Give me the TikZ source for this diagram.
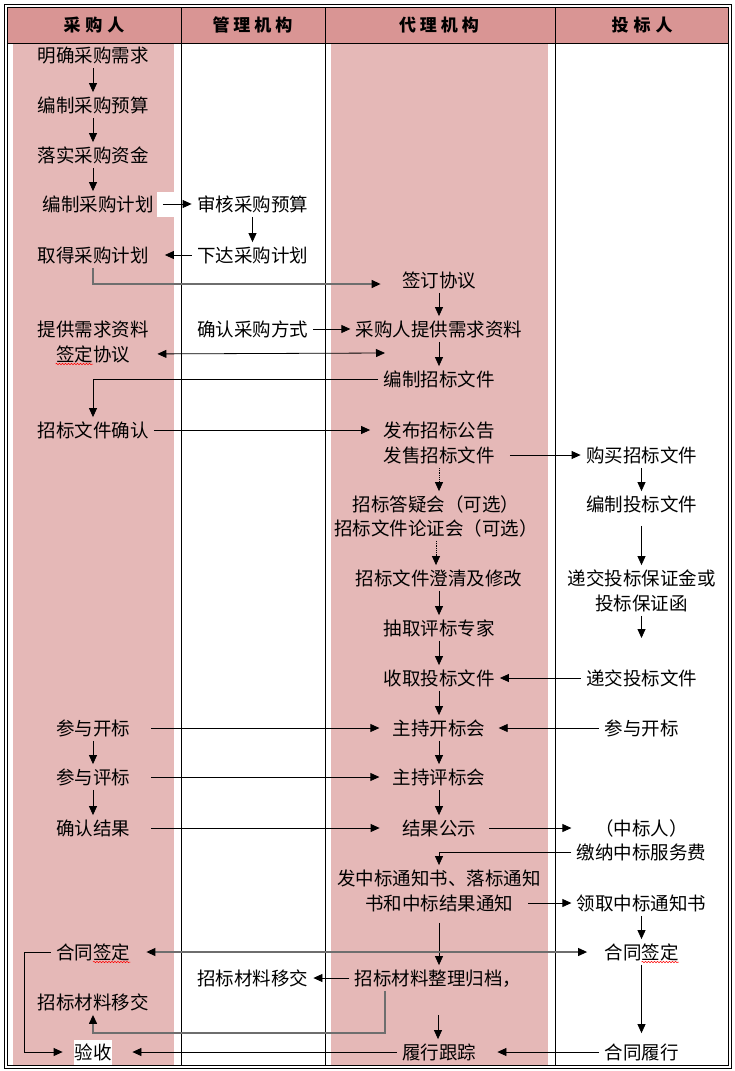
\documentclass[tikz,border=0pt]{standalone}
\usepackage{fontspec}
\setmainfont{Noto Sans CJK SC}
\usetikzlibrary{arrows.meta,decorations.pathmorphing}
\definecolor{hdpink}{HTML}{D99594}
\definecolor{lanepink}{HTML}{E5B8B7}
\definecolor{linegray}{HTML}{6E6E6E}
\tikzset{
    txt/.style={inner xsep=5pt, inner ysep=3pt, text height=16.5pt, text depth=2.5pt, font=\fontsize{18.5}{25}\selectfont},
    hd/.style={inner sep=2pt, text height=14pt, text depth=2pt, font=\fontsize{17}{20}\selectfont\bfseries},
    wavy/.style={red, line width=0.5pt, decorate, decoration={snake, amplitude=0.7pt, segment length=3pt}},
    garr/.style={-{Triangle[length=9pt,width=8pt,color=black]}, linegray, line width=1.3pt}
}
\begin{document}
\begin{tikzpicture}[x=1pt, y=-1pt, >={Triangle[length=9pt,width=8pt]}, line width=0.8pt]
    \useasboundingbox (0,0) rectangle (734,1071);
    \fill[lanepink] (13,43) rectangle (174,1065);
    \fill[lanepink] (331,43) rectangle (548,1065);
    \fill[hdpink] (7,7) rectangle (728,43);
    \fill[white] (157,192) rectangle (174,217);
    \draw (4,4) rectangle (731,1068);
    \draw (7,7) rectangle (728,1065);
    \draw (7,43) -- (728,43);
    \draw (181,7) -- (181,1065);
    \draw (325,7) -- (325,1065);
    \draw (555,7) -- (555,1065);

    \node[hd] (h1) at (94,25) {采\hspace{5pt}购\hspace{5pt}人};
    \node[hd] (h2) at (252.5,25) {管\hspace{4pt}理\hspace{4pt}机\hspace{4pt}构};
    \node[hd] (h3) at (439,25) {代\hspace{4pt}理\hspace{4pt}机\hspace{4pt}构};
    \node[hd] (h4) at (642,25) {投\hspace{5pt}标\hspace{5pt}人};

    \node[txt] (xq) at (93,55) {明确采购需求};
    \node[txt] (ys) at (93,105) {编制采购预算};
    \node[txt] (zj) at (93,155) {落实采购资金};
    \node[txt] (jh) at (98,204) {编制采购计划};
    \node[txt] (qd) at (93,255) {取得采购计划};
    \node[txt] (tg1) at (93,329) {提供需求资料};
    \node[txt] (tg2) at (93,354) {签定协议};
    \node[txt] (wq) at (93,430) {招标文件确认};
    \node[txt] (kb1) at (93,728) {参与开标};
    \node[txt] (pb1) at (93,777) {参与评标};
    \node[txt] (jg1) at (93,828) {确认结果};
    \node[txt] (ht1) at (93,952) {合同签定};
    \node[txt] (yj1) at (93,1002) {招标材料移交};
    \node[txt, fill=white, inner xsep=0.5pt] (ysh) at (93,1052) {验收};

    \node[txt] (sh) at (252.5,204) {审核采购预算};
    \node[txt] (xd) at (252.5,255) {下达采购计划};
    \node[txt] (fs) at (252.5,329) {确认采购方式};
    \node[txt] (yj2) at (252.5,978) {招标材料移交};

    \node[txt] (qy) at (439,280) {签订协议};
    \node[txt] (zl) at (439,329) {采购人提供需求资料};
    \node[txt] (bz) at (439,379) {编制招标文件};
    \node[txt] (gg1) at (439,430) {发布招标公告};
    \node[txt] (gg2) at (439,455) {发售招标文件};
    \node[txt] (dy1) at (436,504) {招标答疑会（可选）};
    \node[txt] (dy2) at (436,528) {招标文件论证会（可选）};
    \node[txt] (cq) at (439,578) {招标文件澄清及修改};
    \node[txt] (cz) at (439,628) {抽取评标专家};
    \node[txt] (sq) at (439,678) {收取投标文件};
    \node[txt] (kb3) at (439,728) {主持开标会};
    \node[txt] (pb3) at (439,777) {主持评标会};
    \node[txt] (gs) at (439,828) {结果公示};
    \node[txt] (tz1) at (439,878) {发中标通知书、落标通知};
    \node[txt] (tz2) at (439,903) {书和中标结果通知};
    \node[txt] (gd) at (438,978) {招标材料整理归档，};
    \node[txt] (lx) at (439,1052) {履行跟踪};

    \node[txt] (gm) at (641.5,455) {购买招标文件};
    \node[txt] (bj) at (641.5,504) {编制投标文件};
    \node[txt] (bzj1) at (641.5,578) {递交投标保证金或};
    \node[txt] (bzj2) at (641.5,603) {投标保证函};
    \node[txt] (dj) at (641.5,678) {递交投标文件};
    \node[txt] (kb4) at (641.5,728) {参与开标};
    \node[txt] (zbr) at (641.5,828) {（中标人）};
    \node[txt] (fee) at (641.5,852) {缴纳中标服务费};
    \node[txt] (lq) at (641.5,903) {领取中标通知书};
    \node[txt] (ht4) at (641.5,952) {合同签定};
    \node[txt] (hx) at (641.5,1052) {合同履行};

    \coordinate (qxr) at (385,353);
    \coordinate (bzd) at (641.5,638);
    \coordinate (gdl) at (385,1033);

    \draw[->] (xq.south) -- (ys.north);
    \draw[->] (ys.south) -- (zj.north);
    \draw[->] (zj.south) -- (zj.south |- jh.north);
    \draw[->, shorten <=4pt] (jh.east) -- (sh.west);
    \draw[->] (sh.south) -- (xd.north);
    \draw[->, shorten >=11pt] (xd.west) -- (qd.east);
    \draw[garr, shorten >=16pt] (qd.south) |- ([yshift=-4pt]qy.west);
    \draw[->] (qy.south) -- (zl.north);
    \draw[->] (fs.east) -- (zl.west);
    \draw[<->, shorten <=22pt] (tg2.east) -- (qxr);
    \draw[->] (zl.south) -- (bz.north);
    \draw[->] (bz.west) -| (wq.north);
    \draw[->, shorten >=8pt] (wq.east) -- (gg1.west);
    \draw[->, shorten <=10pt] (gg2.east) -- (gm.west);
    \draw[->, densely dotted] (gg2.south) -- (gg2.south |- dy1.north);
    \draw[->, densely dotted] (dy2.south) -- (dy2.south |- cq.north);
    \draw[->] (cq.south) -- (cz.north);
    \draw[->] (cz.south) -- (sq.north);
    \draw[->] (gm.south) -- (bj.north);
    \draw[->, shorten <=9pt] (bj.south) -- (bzj1.north);
    \draw[->] (bzj2.south) -- (bzd);
    \draw[->] (dj.west) -- (sq.east);
    \draw[->] (sq.south) -- (kb3.north);
    \draw[->, shorten <=16pt, shorten >=8pt] (kb1.east) -- (kb3.west);
    \draw[->, shorten >=8pt] (kb4.west) -- (kb3.east);
    \draw[->] (kb1.south) -- (pb1.north);
    \draw[->] (kb3.south) -- (pb3.north);
    \draw[->, shorten <=16pt, shorten >=8pt] (pb1.east) -- (pb3.west);
    \draw[->] (pb1.south) -- (jg1.north);
    \draw[->] (pb3.south) -- (gs.north);
    \draw[->, shorten <=16pt, shorten >=17pt] (jg1.east) -- (gs.west);
    \draw[->, shorten <=8pt] (gs.east) -- (gs.east -| fee.west);
    \draw[->] (fee.west) -| (tz1.north);
    \draw[->, shorten <=10pt] (tz2.east) -- (tz2.east -| lq.west);
    \draw[->] (lq.south) -- (ht4.north);
    \draw[->, shorten <=7pt] (tz2.south) -- (tz2.south |- gd.north);
    \draw[{Triangle[length=9pt,width=8pt,color=black]}-{Triangle[length=9pt,width=8pt,color=black]}, linegray, line width=1.1pt, shorten <=11pt, shorten >=12pt] (ht1.east) -- (ht4.west);
    \draw[->, shorten >=11pt] (ht1.west) -- ++(-26,0) |- (ysh.west);
    \draw[->] (gd.west) -- (yj2.east);
    \draw[garr] (gd.south -| gdl) -- (gdl) -| (yj1.south);
    \draw[->, shorten <=24pt] (gd.south) -- (gd.south |- lx.north);
    \draw[->, shorten >=6pt] (ht4.south) -- (hx.north);
    \draw[->, shorten >=16pt] (hx.west) -- (lx.east);
    \draw[->, shorten >=20pt] (lx.west) -- (ysh.east);

    \draw[wavy] ([xshift=5pt,yshift=-3pt]tg2.base west) -- ([yshift=-3pt]tg2.base);
    \draw[wavy] ([yshift=-3pt]ht1.base) -- ([xshift=-5pt,yshift=-3pt]ht1.base east);
    \draw[wavy] ([yshift=-3pt]ht4.base) -- ([xshift=-5pt,yshift=-3pt]ht4.base east);
\end{tikzpicture}
\end{document}
